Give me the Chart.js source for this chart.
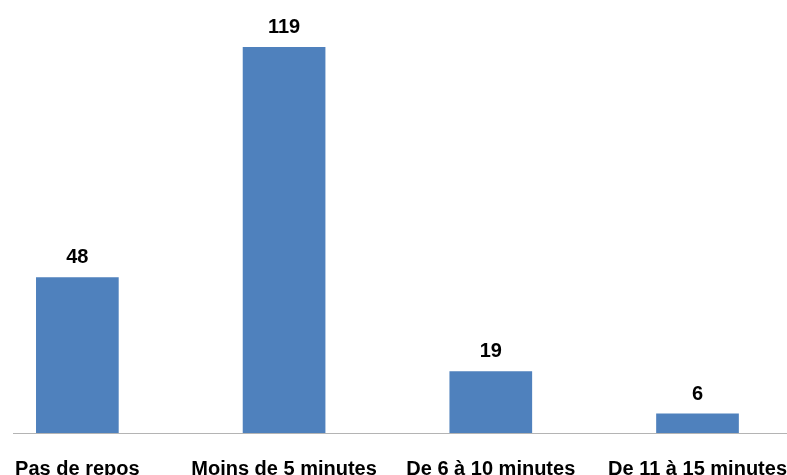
<!DOCTYPE html>
<html>
<head>
<meta charset="utf-8">
<script src="https://cdn.jsdelivr.net/npm/chart.js@4"></script>
<style>
  html, body { margin: 0; padding: 0; background: #fff; overflow: hidden; width: 787px; height: 475px; }
  #myChart { position: absolute; left: -26px; top: 0; }
</style>
</head>
<body>
<canvas id="myChart" width="837" height="505"></canvas>
<script>
const categories = ["Pas de repos", "Moins de 5 minutes", "De 6 à 10 minutes", "De 11 à 15 minutes"];
const values = [48, 119, 19, 6];

// draws the value above each bar
const valueLabels = {
  id: 'valueLabels',
  afterDatasetsDraw(chart) {
    const c = chart.ctx;
    const meta = chart.getDatasetMeta(0);
    c.save();
    c.font = 'bold 20px "Liberation Sans", Arial, sans-serif';
    c.fillStyle = '#000';
    c.textAlign = 'center';
    c.textBaseline = 'alphabetic';
    meta.data.forEach((bar, i) => {
      c.fillText(values[i], bar.x, bar.y - 14);
    });
    c.restore();
  }
};

// baseline, starts a bit right of the canvas edge like the original
const baseLine = {
  id: 'baseLine',
  afterDatasetsDraw(chart) {
    const c = chart.ctx;
    const y = Math.round(chart.scales.y.getPixelForValue(0)) + 0.5;
    c.save();
    c.strokeStyle = '#b4b4b4';
    c.lineWidth = 1;
    c.beginPath();
    c.moveTo(39, y);
    c.lineTo(chart.width, y);
    c.stroke();
    c.restore();
  }
};

const ctx = document.getElementById('myChart');
new Chart(ctx, {
  type: 'bar',
  data: {
    labels: categories,
    datasets: [{
      data: values,
      backgroundColor: '#4f81bd',
      barPercentage: 0.4,
      categoryPercentage: 1.0
    }]
  },
  options: {
    responsive: false,
    animation: false,
    layout: { padding: 0, autoPadding: false },
    plugins: {
      legend: { display: false },
      tooltip: { enabled: false }
    },
    scales: {
      y: {
        display: false,
        min: 0,
        max: 133.5
      },
      x: {
        grid: { display: false, drawTicks: false },
        border: { display: false },
        ticks: {
          padding: 24,
          maxRotation: 0,
          autoSkip: false,
          color: '#000',
          font: { family: '"Liberation Sans", Arial, sans-serif', size: 20, weight: 'bold' }
        }
      }
    }
  },
  plugins: [valueLabels, baseLine]
});
</script>
</body>
</html>
